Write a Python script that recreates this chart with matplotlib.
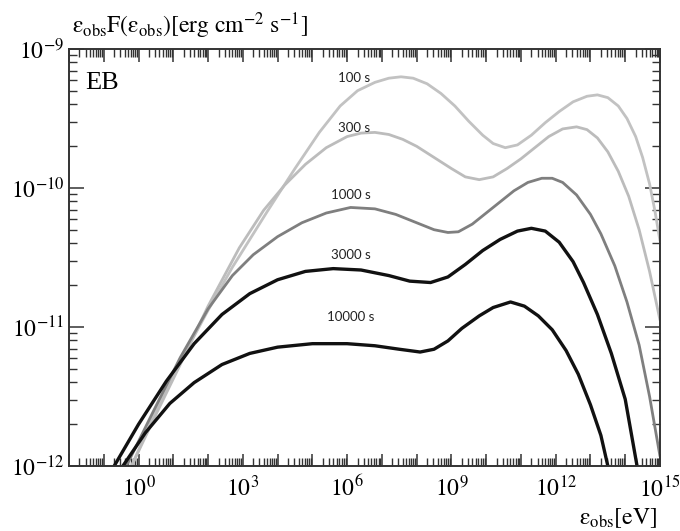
import numpy as np
import matplotlib
matplotlib.use('Agg')
import matplotlib.pyplot as plt
from matplotlib.ticker import LogLocator, FuncFormatter, NullFormatter

plt.rcParams['font.family'] = 'serif'
plt.rcParams['font.serif'] = ['Liberation Serif', 'DejaVu Serif']
plt.rcParams['mathtext.fontset'] = 'stix'

# spectra: log10(eps_obs [eV]) and log10(eps F [erg cm^-2 s^-1])
lx_100 = [-0.2, 0.5, 1.2, 2.0, 2.7, 3.7, 4.5, 5.2, 5.8, 6.3, 6.8, 7.2, 7.55, 7.9, 8.3,
          8.7, 9.1, 9.5, 9.9, 10.2, 10.55, 10.9, 11.3, 11.7, 12.1, 12.5, 12.9, 13.2,
          13.5, 13.8, 14.05, 14.3, 14.5, 14.7, 14.85, 15.0]
ly_100 = [-12.0, -11.6, -11.25, -10.88, -10.57, -10.17, -9.86, -9.60, -9.41, -9.30,
          -9.24, -9.21, -9.20, -9.21, -9.25, -9.32, -9.41, -9.52, -9.62, -9.68, -9.71,
          -9.69, -9.62, -9.53, -9.45, -9.38, -9.34, -9.33, -9.35, -9.41, -9.50, -9.63,
          -9.78, -9.97, -10.16, -10.38]

lx_300 = [-0.2, 0.5, 1.2, 2.0, 2.9, 3.6, 4.2, 4.8, 5.4, 6.0, 6.4, 6.8, 7.2, 7.6, 8.0,
          8.5, 9.0, 9.4, 9.8, 10.2, 10.6, 11.0, 11.4, 11.8, 12.2, 12.6, 12.9, 13.2,
          13.5, 13.8, 14.1, 14.4, 14.7, 15.0]
ly_300 = [-12.0, -11.63, -11.27, -10.85, -10.43, -10.16, -9.98, -9.83, -9.71, -9.63,
          -9.605, -9.60, -9.615, -9.65, -9.70, -9.78, -9.86, -9.92, -9.94, -9.92, -9.86,
          -9.79, -9.71, -9.63, -9.575, -9.56, -9.58, -9.64, -9.74, -9.88, -10.06, -10.3,
          -10.6, -10.95]

lx_1000 = [-0.35, 0.4, 1.2, 2.0, 2.7, 3.3, 4.0, 4.7, 5.4, 6.1, 6.8, 7.4, 8.0, 8.5, 8.9,
           9.2, 9.6, 10.0, 10.4, 10.8, 11.2, 11.6, 11.9, 12.2, 12.6, 13.0, 13.3, 13.7,
           14.05, 14.4, 14.7, 15.0]
ly_1000 = [-12.0, -11.62, -11.22, -10.87, -10.63, -10.48, -10.35, -10.25, -10.18, -10.14,
           -10.15, -10.19, -10.25, -10.30, -10.32, -10.315, -10.26, -10.18, -10.10,
           -10.02, -9.96, -9.93, -9.93, -9.96, -10.05, -10.19, -10.33, -10.56, -10.82,
           -11.13, -11.50, -11.93]

lx_3000 = [-0.7, 0.0, 0.8, 1.6, 2.4, 3.2, 4.0, 4.8, 5.6, 6.4, 7.2, 7.8, 8.4, 8.9, 9.4,
           9.9, 10.4, 10.9, 11.3, 11.7, 12.1, 12.5, 12.8, 13.2, 13.6, 14.0, 14.34]
ly_3000 = [-12.0, -11.70, -11.39, -11.12, -10.91, -10.76, -10.66, -10.60, -10.58, -10.59,
           -10.63, -10.67, -10.68, -10.64, -10.55, -10.45, -10.37, -10.31, -10.29, -10.31,
           -10.39, -10.53, -10.68, -10.91, -11.19, -11.52, -12.0]

lx_10000 = [-0.45, 0.2, 0.9, 1.6, 2.4, 3.2, 4.0, 5.0, 6.0, 6.8, 7.5, 8.1, 8.5, 8.9, 9.3,
            9.8, 10.2, 10.7, 11.1, 11.5, 11.9, 12.3, 12.65, 13.0, 13.3, 13.5]
ly_10000 = [-12.0, -11.76, -11.55, -11.40, -11.27, -11.19, -11.145, -11.12, -11.12,
            -11.135, -11.16, -11.18, -11.16, -11.10, -11.01, -10.92, -10.86, -10.82,
            -10.85, -10.92, -11.02, -11.17, -11.34, -11.56, -11.78, -12.0]

labels = ['100 s', '300 s', '1000 s', '3000 s', '10000 s']
label_lx = [6.2, 6.2, 6.1, 6.1, 6.1]
label_ly = [-9.21, -9.57, -10.05, -10.48, -10.93]
colors = ['#c2c2c2', '#bcbcbc', '#7f7f7f', '#111111', '#111111']
widths = [2.0, 2.0, 2.0, 2.4, 2.4]

fig = plt.figure(figsize=(6.8, 5.31), dpi=100)
ax = fig.add_axes([69/680, 65/531, 591/680, 417/531])

series = [(lx_100, ly_100), (lx_300, ly_300), (lx_1000, ly_1000),
          (lx_3000, ly_3000), (lx_10000, ly_10000)]
for (lx, ly), c, lw in zip(series, colors, widths):
    ax.plot(10**np.array(lx), 10**np.array(ly), color=c, lw=lw,
            solid_joinstyle='round', solid_capstyle='round')
for lab, tx, ty in zip(labels, label_lx, label_ly):
    ax.text(10**tx, 10**ty, lab, ha='center', va='center', fontsize=9.5,
            family='Lato', color='#222222')

ax.set_xscale('log')
ax.set_yscale('log')
ax.set_xlim(1e-2, 1e15)
ax.set_ylim(1e-12, 1e-9)

ax.xaxis.set_major_locator(LogLocator(base=10, numticks=40))
ax.xaxis.set_minor_locator(LogLocator(base=10, subs=np.arange(2, 10), numticks=40))
ax.xaxis.set_major_formatter(FuncFormatter(
    lambda v, p: r'$10^{%d}$' % round(np.log10(v)) if round(np.log10(v)) % 3 == 0 else ''))
ax.xaxis.set_minor_formatter(NullFormatter())
ax.yaxis.set_major_locator(LogLocator(base=10, numticks=10))
ax.yaxis.set_minor_locator(LogLocator(base=10, subs=np.arange(2, 10), numticks=10))
ax.yaxis.set_major_formatter(FuncFormatter(lambda v, p: r'$10^{%d}$' % round(np.log10(v))))
ax.yaxis.set_minor_formatter(NullFormatter())

ax.tick_params(which='both', direction='in', top=True, right=True, labelsize=17,
               color='#333333')
ax.tick_params(which='major', length=11, width=1.1)
ax.tick_params(which='minor', length=6, width=1.0)
ax.tick_params(axis='x', which='major', length=9, pad=7)
for s in ax.spines.values():
    s.set_linewidth(1.4)
    s.set_color('#333333')

ax.text(0.027, 0.918, 'EB', transform=ax.transAxes, fontsize=19, ha='left', va='center')
fig.text(72/680, 1 - 33/531,
         r'$\mathrm{ε}_{\mathrm{obs}}\mathrm{F}(\mathrm{ε}_{\mathrm{obs}})[\mathrm{erg\ cm^{-2}\ s^{-1}}]$',
         fontsize=17, ha='left', va='baseline')
fig.text(657/680, 1 - 524/531, r'$\mathrm{ε}_{\mathrm{obs}}[\mathrm{eV}]$', fontsize=17,
         ha='right', va='baseline')

fig.savefig('out.png', dpi=100)
